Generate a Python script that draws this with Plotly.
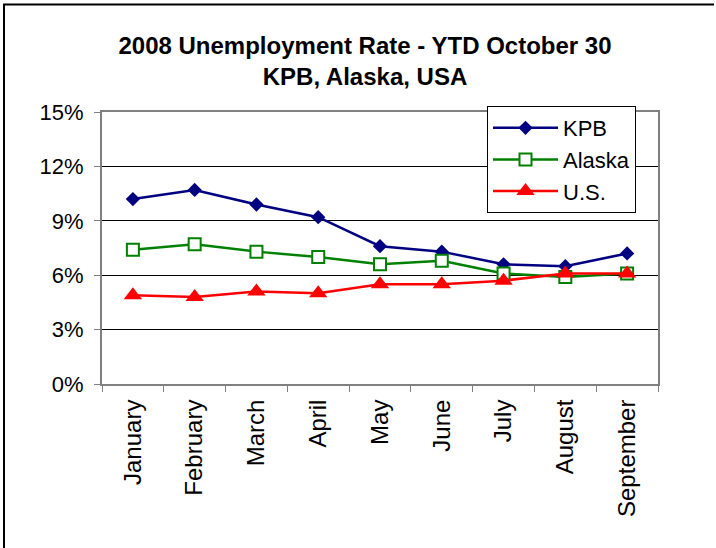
import plotly.graph_objects as go

months = ["January", "February", "March", "April", "May", "June", "July", "August", "September"]
kpb = [10.2, 10.7, 9.9, 9.2, 7.6, 7.3, 6.6, 6.5, 7.2]
alaska = [7.4, 7.7, 7.3, 7.0, 6.6, 6.8, 6.1, 5.9, 6.1]
us = [4.9, 4.8, 5.1, 5.0, 5.5, 5.5, 5.7, 6.1, 6.1]
y_ticks = [0, 3, 6, 9, 12, 15]
y_tick_labels = ["0%", "3%", "6%", "9%", "12%", "15%"]

FONT = "Liberation Sans, Arial, sans-serif"

fig = go.Figure()
fig.add_trace(go.Scatter(
    x=months, y=kpb, name="KPB", mode="lines+markers",
    line=dict(color="#000080", width=2.5),
    marker=dict(symbol="diamond", size=11, color="#000080"),
))
fig.add_trace(go.Scatter(
    x=months, y=alaska, name="Alaska", mode="lines+markers",
    line=dict(color="#008000", width=2.5),
    marker=dict(symbol="square", size=12, color="white",
                line=dict(color="#008000", width=2)),
))
fig.add_trace(go.Scatter(
    x=months, y=us, name="U.S.", mode="lines+markers",
    line=dict(color="#FF0000", width=2.5),
    marker=dict(symbol="triangle-up", size=16, color="#FF0000"),
))

# plot area: left 102, right 658, top 112, bottom 384
L, R, T, B = 102, 658, 112, 384
W, H = R - L, B - T

def px(x):
    return (x - L) / W

def py(y):
    return (B - y) / H

fig.update_layout(
    width=716, height=548,
    margin=dict(l=L, r=716 - R, t=T, b=548 - B, pad=0),
    paper_bgcolor="white", plot_bgcolor="white",
    font=dict(family=FONT, size=22, color="black"),
    title=dict(
        text="<b>2008 Unemployment Rate - YTD October 30</b><br><b>KPB, Alaska, USA</b>",
        x=365 / 716, xanchor="center", xref="container",
        y=1 - 53.5 / 548, yanchor="middle", yref="container",
        font=dict(family=FONT, size=24, color="black"),
    ),
    showlegend=True,
    legend=dict(
        x=px(487), y=py(106), xanchor="left", yanchor="top",
        bgcolor="white", bordercolor="black", borderwidth=1,
        font=dict(family=FONT, size=22, color="black"),
        tracegroupgap=0, itemwidth=65, entrywidth=155, entrywidthmode="pixels",
    ),
    xaxis=dict(
        type="category", tickangle=-90, tickson="boundaries",
        ticks="outside", ticklen=6, tickcolor="#808080", tickwidth=1,
        showline=True, linecolor="#808080", linewidth=2, mirror=True,
        showgrid=False, tickfont=dict(family=FONT, size=24),
        range=[-0.5, len(months) - 0.5], fixedrange=True,
        ticklabelstandoff=4,
    ),
    yaxis=dict(
        range=[0, 15], tickvals=y_ticks, ticktext=y_tick_labels,
        ticks="outside", ticklen=6, tickcolor="#808080", tickwidth=1,
        showline=True, linecolor="#808080", linewidth=2, mirror=True,
        showgrid=True, gridcolor="black", gridwidth=1,
        zeroline=False, tickfont=dict(family=FONT, size=22),
        ticklabelstandoff=6,
    ),
    shapes=[
        dict(type="line", xref="paper", yref="paper",
             x0=px(3), x1=px(714), y0=py(4.5), y1=py(4.5),
             line=dict(color="black", width=2)),
        dict(type="line", xref="paper", yref="paper",
             x0=px(4), x1=px(4), y0=py(4.5), y1=py(548),
             line=dict(color="black", width=2)),
    ],
)

fig.write_html("out.html", config={"displayModeBar": False},
               post_script="document.body.style.margin='0';")
